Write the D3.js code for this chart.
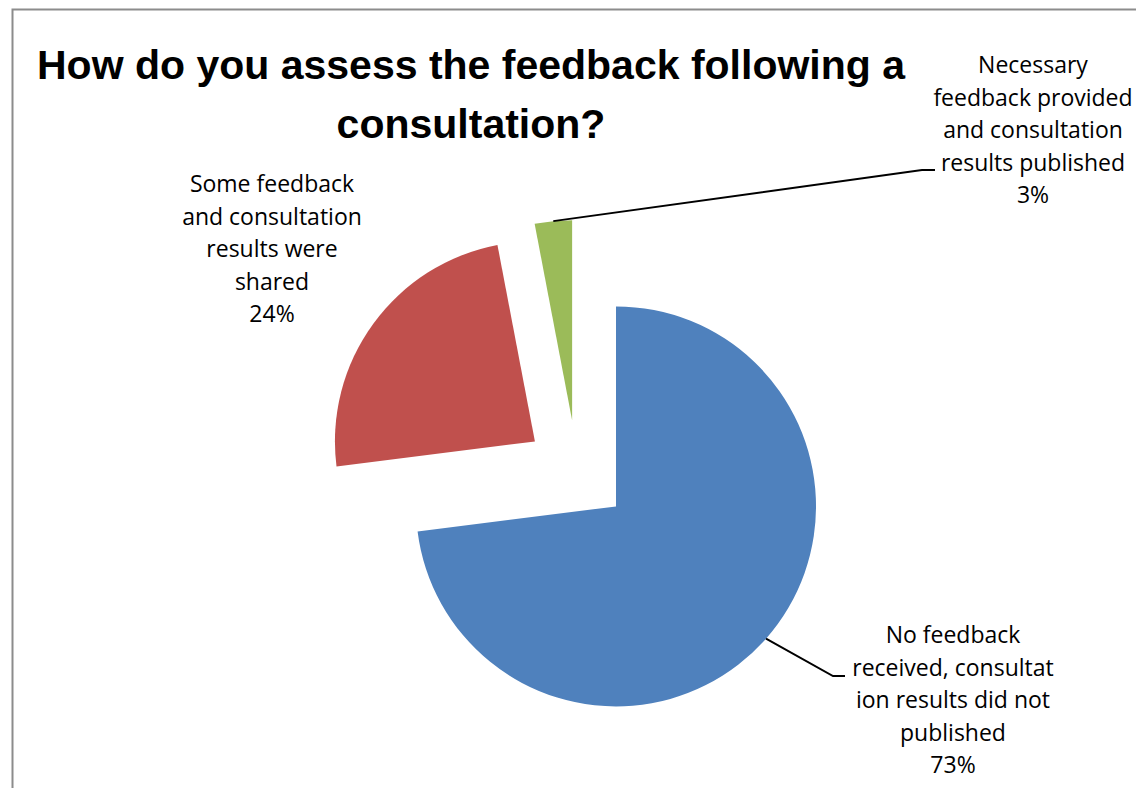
<!DOCTYPE html>
<html>
<head>
<meta charset="utf-8">
<script src="https://cdn.jsdelivr.net/npm/d3@7"></script>
<style>
  html, body { margin: 0; padding: 0; background: #fff; }
  svg { display: block; }
</style>
</head>
<body>
<svg id="chart" width="1136" height="788"></svg>
<script>
// Survey answers and their shares (percent)
const categories = [
  "No feedback received, consultation results did not published",
  "Some feedback and consultation results were shared",
  "Necessary feedback provided and consultation results published"
];
const values = [73, 24, 3];
const sliceColors = ["#4F81BD", "#C0504D", "#9BBB59"];
// Label lines as wrapped in the chart
const labelLines = [
  ["No feedback", "received, consultat", "ion results did not", "published", "73%"],
  ["Some feedback", "and consultation", "results were", "shared", "24%"],
  ["Necessary", "feedback provided", "and consultation", "results published", "3%"]
];
const titleLines = ["How do you assess the feedback following a", "consultation?"];

const svg = d3.select("#chart");
const W = 1136, H = 788;

// chart frame
svg.append("rect")
  .attr("x", 12.5).attr("y", 9.5)
  .attr("width", W + 20).attr("height", H + 20)
  .attr("fill", "#fff")
  .attr("stroke", "#8c8c8c").attr("stroke-width", 2);

// title
const titleFont = "'Liberation Sans', Arial, sans-serif";
svg.append("text")
  .attr("x", 471).attr("y", 79)
  .attr("text-anchor", "middle")
  .attr("font-family", titleFont)
  .attr("font-weight", "bold")
  .attr("font-size", 41)
  .attr("fill", "#000")
  .selectAll("tspan")
  .data(titleLines)
  .join("tspan")
  .attr("x", 471)
  .attr("dy", (d, i) => i === 0 ? 0 : 59)
  .text(d => d);

// pie geometry
const cx = 577, cy = 472, radius = 200, explode = 52;
const pie = d3.pie().sort(null).value(d => d).startAngle(0).endAngle(2 * Math.PI);
const arcs = pie(values);
const arc = d3.arc().innerRadius(0).outerRadius(radius);

const offset = a => {
  const m = (a.startAngle + a.endAngle) / 2;
  return [Math.sin(m) * explode, -Math.cos(m) * explode];
};

const g = svg.append("g").attr("transform", `translate(${cx},${cy})`);
g.selectAll("path.slice")
  .data(arcs)
  .join("path")
  .attr("class", "slice")
  .attr("transform", d => { const o = offset(d); return `translate(${o[0]},${o[1]})`; })
  .attr("d", arc)
  .attr("fill", (d, i) => sliceColors[i]);

// data labels
const labelFont = "'Open Sans', sans-serif";
const labelPos = [
  { x: 953, y: 643, leader: [[833, 676], [845, 676]] },
  { x: 272, y: 192, leader: null },
  { x: 1033, y: 73, leader: [[922, 170], [935, 170]] }
];
const lineH = 32.5;

arcs.forEach((a, i) => {
  const p = labelPos[i];
  if (p.leader) {
    const o = offset(a);
    const m = (a.startAngle + a.endAngle) / 2;
    const start = [cx + o[0] + Math.sin(m) * radius, cy + o[1] - Math.cos(m) * radius];
    svg.append("path")
      .attr("d", d3.line()([start, ...p.leader]))
      .attr("fill", "none")
      .attr("stroke", "#000")
      .attr("stroke-width", 2);
  }
  svg.append("text")
    .attr("text-anchor", "middle")
    .attr("font-family", labelFont)
    .attr("font-size", 23)
    .attr("fill", "#000")
    .selectAll("tspan")
    .data(labelLines[i])
    .join("tspan")
    .attr("x", p.x)
    .attr("y", (d, j) => p.y + j * lineH)
    .text(d => d);
});
</script>
</body>
</html>
